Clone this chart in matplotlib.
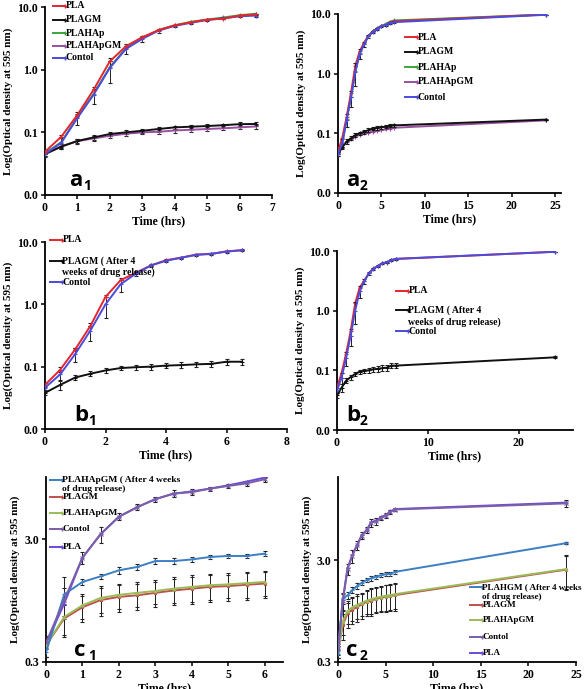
import matplotlib
matplotlib.use("Agg")
import matplotlib.pyplot as plt
from matplotlib.lines import Line2D

plt.rcParams['font.family'] = ['Liberation Serif', 'DejaVu Serif']
plt.rcParams['font.weight'] = 'bold'

# ---- data ----
t_a = [0, 0.5, 1, 1.5, 2, 2.5, 3, 3.5, 4, 4.5, 5, 5.5, 6, 6.5]
t_a24 = t_a + [24]
t_c = [0, 0.5, 1, 1.5, 2, 2.5, 3, 3.5, 4, 4.5, 5, 5.5, 6]
t_c24 = t_c + [24]

# a1 / a2
pla_a = [0.049, 0.085, 0.19, 0.48, 1.36, 2.37, 3.3, 4.27, 5.1, 5.7, 6.3, 6.5, 7.3, 7.6]
ctrl_a = [0.045, 0.068, 0.17, 0.40, 1.07, 2.15, 3.1, 4.2, 5.0, 5.6, 6.2, 6.6, 7.1, 7.3]
hap_a = [0.046, 0.07, 0.175, 0.41, 1.1, 2.2, 3.15, 4.3, 5.1, 5.8, 6.3, 6.8, 7.4, 7.8]
gm_a = [0.045, 0.059, 0.073, 0.083, 0.094, 0.1, 0.106, 0.113, 0.12, 0.123, 0.126, 0.13, 0.135, 0.136]
hapgm_a = [0.045, 0.06, 0.072, 0.08, 0.088, 0.095, 0.1, 0.102, 0.107, 0.11, 0.113, 0.116, 0.12, 0.124]
err_hi_a = [0.004, 0.012, 0.04, 0.12, 0.45, 0.4, 0.3, 0.3, 0.25, 0.2, 0.2, 0.25, 0.3, 0.3]
err_lo_a = [0.003, 0.005, 0.006, 0.007, 0.007, 0.007, 0.007, 0.008, 0.008, 0.008, 0.008, 0.008, 0.009, 0.009]
pla_a24, ctrl_a24, hap_a24 = 9.8, 9.7, 9.8
gm_a24, hapgm_a24 = 0.17, 0.165

# b1 / b2
pla_b = [0.051, 0.089, 0.19, 0.45, 1.32, 2.44, 3.2, 4.2, 5.1, 5.6, 6.3, 6.4, 7.1, 7.35]
ctrl_b = [0.046, 0.075, 0.16, 0.38, 1.0, 2.1, 3.1, 4.2, 5.0, 5.6, 6.2, 6.5, 7.0, 7.4]
gm_b = [0.038, 0.051, 0.067, 0.077, 0.087, 0.095, 0.098, 0.1, 0.104, 0.106, 0.109, 0.111, 0.12, 0.12]
err_hi_b = [0.004, 0.015, 0.04, 0.12, 0.4, 0.5, 0.3, 0.3, 0.25, 0.2, 0.2, 0.25, 0.3, 0.3]
err_lo_b = [0.003, 0.008, 0.006, 0.007, 0.007, 0.007, 0.009, 0.01, 0.01, 0.012, 0.012, 0.012, 0.012, 0.012]
pla_b24, ctrl_b24, gm_b24 = 9.7, 9.7, 0.165

# c1 / c2
pla_c1 = [0.42, 0.90, 2.13, 3.32, 4.6, 5.5, 6.4, 7.1, 7.4, 7.8, 8.3, 8.9, 9.6]
ctrl_c1 = [0.43, 0.96, 2.13, 3.32, 4.6, 5.5, 6.4, 7.1, 7.3, 7.8, 8.2, 8.6, 9.3]
wk4_c1 = [0.36, 1.07, 1.35, 1.5, 1.68, 1.79, 2.0, 2.0, 2.06, 2.16, 2.2, 2.2, 2.3]
gm_c1 = [0.41, 0.68, 0.84, 0.96, 1.02, 1.05, 1.1, 1.15, 1.19, 1.23, 1.25, 1.28, 1.31]
hapgm_c1 = [0.41, 0.70, 0.87, 1.0, 1.06, 1.1, 1.14, 1.19, 1.23, 1.27, 1.29, 1.32, 1.35]
err_top_c1 = [0.05, 0.25, 0.25, 0.5, 0.3, 0.3, 0.3, 0.5, 0.4, 0.3, 0.3, 0.4, 0.4]
err_wk4_c1 = [0.03, 0.4, 0.08, 0.08, 0.1, 0.1, 0.1, 0.1, 0.1, 0.1, 0.1, 0.1, 0.1]
err_low_c1 = [0.08, 0.2, 0.2, 0.25, 0.25, 0.25, 0.25, 0.28, 0.3, 0.3, 0.3, 0.32, 0.32]

pla_c2 = [0.40, 1.21, 2.5, 3.36, 4.2, 5.3, 5.9, 7.1, 7.3, 7.9, 8.3, 9.0, 9.5, 11.0]
ctrl_c2 = [0.40, 1.18, 2.45, 3.3, 4.2, 5.2, 5.9, 7.0, 7.2, 7.8, 8.2, 8.9, 9.4, 10.8]
wk4_c2 = [0.36, 1.26, 1.35, 1.52, 1.67, 1.8, 1.91, 1.99, 2.06, 2.13, 2.18, 2.2, 2.3, 4.4]
gm_c2 = [0.38, 0.69, 0.90, 0.98, 1.04, 1.1, 1.17, 1.2, 1.25, 1.28, 1.31, 1.33, 1.36, 2.42]
hapgm_c2 = [0.38, 0.75, 0.95, 1.03, 1.09, 1.14, 1.2, 1.24, 1.28, 1.31, 1.34, 1.36, 1.39, 2.45]
err_top_c2 = [0.05, 0.2, 0.3, 0.5, 0.4, 0.4, 0.4, 0.6, 0.5, 0.4, 0.4, 0.4, 0.4, 0.8]
err_wk4_c2 = [0.03, 0.15, 0.1, 0.1, 0.1, 0.1, 0.1, 0.1, 0.1, 0.1, 0.1, 0.1, 0.1, 0.1]
err_low_c2 = [0.05, 0.2, 0.25, 0.28, 0.3, 0.3, 0.32, 0.35, 0.35, 0.35, 0.38, 0.38, 0.4, 0.9]

# colours
C_PLA, C_GM, C_HAP, C_HAPGM, C_CTRL = '#e3262d', '#111111', '#3aa63a', '#9a4fa0', '#4b4bdc'
K_WK4, K_GM, K_HAPGM, K_CTRL, K_PLA = '#3c7fc4', '#c0504d', '#9bbb59', '#7b5ea7', '#6a4ad8'

W, H = 586, 689
fig = plt.figure(figsize=(W / 100, H / 100), dpi=100)


def axes_px(l, t, r, b):
    return fig.add_axes([l / W, 1 - b / H, (r - l) / W, (b - t) / H])


def style(ax, xlim, xticks, ylim, yticks, ylabels):
    ax.set_yscale('log')
    ax.set_xlim(*xlim)
    ax.set_ylim(*ylim)
    ax.set_xticks(xticks)
    ax.set_xticklabels([str(x) for x in xticks])
    ax.set_yticks(yticks)
    ax.set_yticklabels(ylabels)
    ax.minorticks_off()
    for s in ['top', 'right']:
        ax.spines[s].set_visible(False)
    for s in ['left', 'bottom']:
        ax.spines[s].set_linewidth(1.3)
    ax.tick_params(direction='out', length=3, width=1.1, pad=2, labelsize=8.5)
    ax.set_ylabel('Log(Optical density at 595 nm)', fontsize=8, fontweight='bold', labelpad=3)
    ax.set_xlabel('Time (hrs)', fontsize=8.5, fontweight='bold', labelpad=1)


def series(ax, t, y, col, err=None, marker='+', ms=3):
    if err is not None:
        ax.errorbar(t, y, yerr=err, color=col, ecolor='#222222', elinewidth=0.7,
                    capsize=1.5, capthick=0.7, marker=marker, ms=ms, lw=1.4, mew=0.8, zorder=3)
    else:
        ax.plot(t, y, color=col, marker=marker, ms=ms, lw=1.4, mew=0.8, zorder=3)


def legend_px(x, rows, fs=7):
    # rows: (y_px, color, label) ; drawn Excel-style
    for y, col, label in rows:
        if col is not None:
            fig.add_artist(Line2D([x / W, (x + 12) / W], [1 - y / H, 1 - y / H],
                                  color=col, lw=1.4, marker='+', ms=2.5,
                                  markevery=[1], transform=fig.transFigure))
        fig.text((x + 12.5) / W, 1 - y / H, label, fontsize=fs, fontweight='bold',
                 va='center', ha='left')


def tag(x, y, letter):
    fig.text(x / W, 1 - y / H, letter[0], fontsize=16, fontweight='bold',
             family=['Open Sans', 'DejaVu Sans'], va='baseline', ha='left')
    fig.text((x + 14) / W, 1 - (y + 4) / H, letter[1], fontsize=10, fontweight='bold',
             family=['Open Sans', 'DejaVu Sans'], va='baseline', ha='left')


ab_ticks = [0.01, 0.1, 1, 10]
ab_labels = ['0.0', '0.1', '1.0', '10.0']

# a1
ax = axes_px(45, 7, 272, 195)
series(ax, t_a, hapgm_a, C_HAPGM, [err_lo_a, err_lo_a])
series(ax, t_a, gm_a, C_GM, [err_lo_a, err_lo_a])
series(ax, t_a, hap_a, C_HAP)
series(ax, t_a, ctrl_a, C_CTRL, [err_hi_a, err_hi_a])
series(ax, t_a, pla_a, C_PLA, [err_lo_a, err_lo_a])
style(ax, (0, 7), list(range(8)), (0.01, 10), ab_ticks, ab_labels)
legend_px(53, [(6, C_PLA, 'PLA'), (20, C_GM, 'PLAGM'), (33, C_HAP, 'PLAHAp'),
               (46, C_HAPGM, 'PLAHApGM'), (58, C_CTRL, 'Contol')])
tag(69, 186, 'a1')

# a2
ax = axes_px(338, 14, 561, 193)
series(ax, t_a24, hapgm_a + [hapgm_a24], C_HAPGM)
series(ax, t_a24, gm_a + [gm_a24], C_GM, [err_lo_a + [0.005], err_lo_a + [0.005]])
series(ax, t_a24, hap_a + [hap_a24], C_HAP)
series(ax, t_a24, pla_a + [pla_a24], C_PLA)
series(ax, t_a24, ctrl_a + [ctrl_a24], C_CTRL, [err_hi_a + [0.1], err_hi_a + [0.1]])
style(ax, (0, 25.7), [0, 5, 10, 15, 20, 25], (0.01, 10), ab_ticks, ab_labels)
legend_px(405, [(37, C_PLA, 'PLA'), (52, C_GM, 'PLAGM'), (67, C_HAP, 'PLAHAp'),
                (82, C_HAPGM, 'PLAHApGM'), (97, C_CTRL, 'Contol')])
tag(346, 186, 'a2')

# b1
ax = axes_px(45, 242, 287, 429)
series(ax, t_a, gm_b, C_GM, [err_lo_b, err_lo_b])
series(ax, t_a, pla_b, C_PLA, [err_lo_b, err_lo_b])
series(ax, t_a, ctrl_b, C_CTRL, [err_hi_b, err_hi_b])
style(ax, (0, 8), [0, 2, 4, 6, 8], (0.01, 10), ab_ticks, ab_labels)
legend_px(50, [(240, C_PLA, 'PLA'), (261, C_GM, 'PLAGM ( After 4'),
               (272, None, 'weeks of drug release)'), (282, C_CTRL, 'Contol')])
tag(74, 421, 'b1')

# b2
ax = axes_px(337, 251, 573, 430)
series(ax, t_a24, gm_b + [gm_b24], C_GM, [err_lo_b + [0.006], err_lo_b + [0.006]])
series(ax, t_a24, pla_b + [pla_b24], C_PLA)
series(ax, t_a24, ctrl_b + [ctrl_b24], C_CTRL, [err_hi_b + [0.1], err_hi_b + [0.1]])
style(ax, (0, 26), [0, 10, 20], (0.01, 10), ab_ticks, ab_labels)
legend_px(396, [(291, C_PLA, 'PLA'), (310, C_GM, 'PLAGM ( After 4'),
                (322, None, 'weeks of drug release)'), (331, C_CTRL, 'Contol')])
tag(346, 421, 'b2')

# c1
ax = axes_px(46, 477, 283, 662)
series(ax, t_c, gm_c1, K_GM, err_low_c1, marker='s', ms=2)
series(ax, t_c, hapgm_c1, K_HAPGM, err_low_c1, marker='^', ms=2)
series(ax, t_c, wk4_c1, K_WK4, err_wk4_c1)
series(ax, t_c, ctrl_c1, K_CTRL, err_top_c1, marker='x', ms=2.5)
series(ax, t_c, pla_c1, K_PLA)
style(ax, (0, 6.5), list(range(7)), (0.3, 9.7), [0.3, 3.0], ['0.3', '3.0'])
legend_px(50, [(480, K_WK4, 'PLAHApGM ( After 4 weeks'), (489, None, 'of drug release)'),
               (497, K_GM, 'PLAGM'), (513, K_HAPGM, 'PLAHApGM'),
               (529, K_CTRL, 'Contol'), (547, K_PLA, 'PLA')], fs=6.8)
tag(74, 656, 'c1')

# c2
ax = axes_px(338, 477, 576, 662)
series(ax, t_c24, gm_c2, K_GM, err_low_c2, marker='s', ms=2)
series(ax, t_c24, hapgm_c2, K_HAPGM, err_low_c2, marker='^', ms=2)
series(ax, t_c24, wk4_c2, K_WK4, err_wk4_c2)
series(ax, t_c24, ctrl_c2, K_CTRL, err_top_c2, marker='x', ms=2.5)
series(ax, t_c24, pla_c2, K_PLA)
style(ax, (0, 25), [0, 5, 10, 15, 20, 25], (0.3, 19.6), [0.3, 3.0], ['0.3', '3.0'])
legend_px(470, [(587, K_WK4, 'PLAHGM ( After 4 weeks'), (597, None, 'of drug release)'),
                (605, K_GM, 'PLAGM'), (620, K_HAPGM, 'PLAHApGM'),
                (637, K_CTRL, 'Contol'), (653, K_PLA, 'PLA')], fs=6.5)
tag(346, 656, 'c2')

fig.savefig('out.png', dpi=100)
